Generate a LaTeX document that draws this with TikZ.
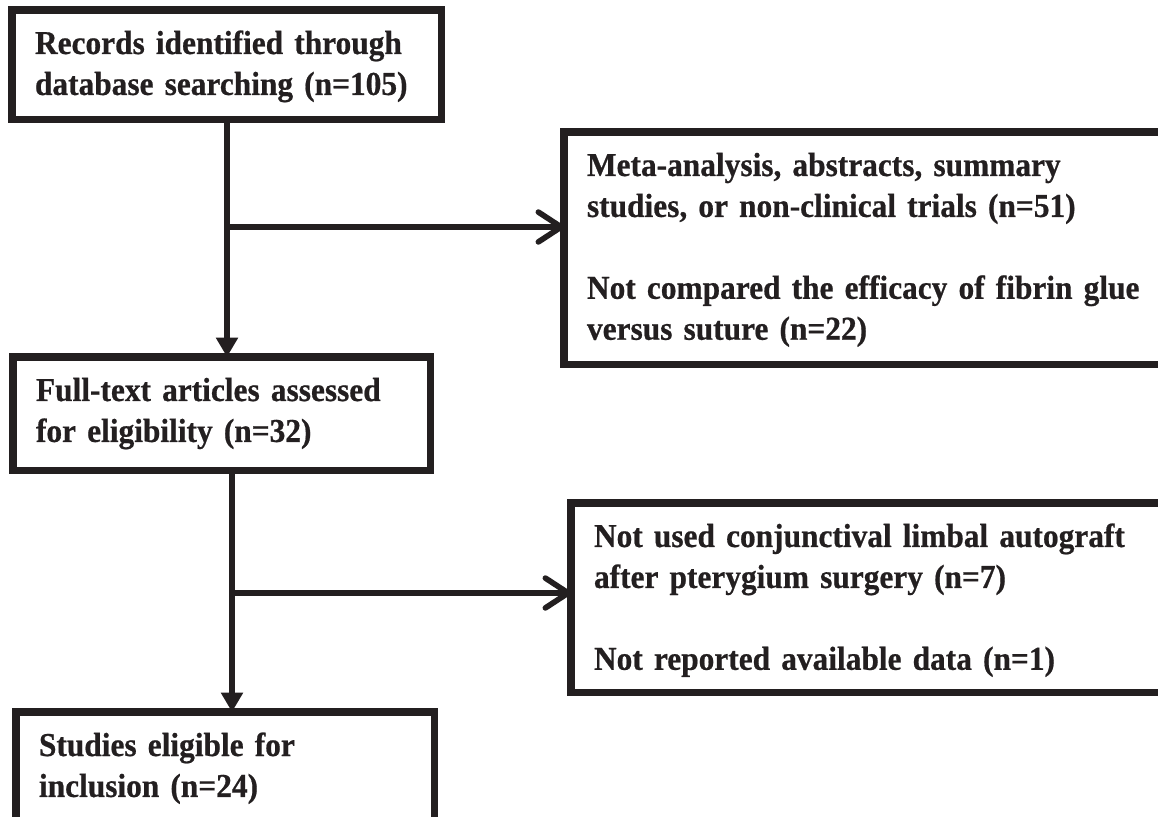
\documentclass[tikz,border=0pt]{standalone}
\usepackage{fontspec}
\setmainfont{Liberation Serif}[FakeStretch=0.94,BoldFeatures={FakeBold=0.6}]
\usetikzlibrary{arrows.meta,positioning}
\definecolor{FlowInk}{HTML}{231F20}
\tikzset{
  down/.style={-{Triangle[length=11pt,width=12pt]}, line width=3.2pt, draw=FlowInk},
  side/.style={-{Straight Barb[length=13pt,width=17pt,round]}, line width=3.2pt, draw=FlowInk},
  flowbox/.style={draw=FlowInk, line width=4pt, fill=white, anchor=north west,
                  align=left, outer sep=0pt, inner xsep=0.46cm, inner ysep=0pt,
                  text height=0.88cm, text=FlowInk,
                  font=\bfseries\fontsize{19pt}{23.3pt}\selectfont},
}

\begin{document}
\begin{tikzpicture}[x=0.02cm,y=-0.02cm]
    \path[use as bounding box,fill=white] (0,0) rectangle (1158,817);
    \node[flowbox,text width=7.68cm,text depth=1.32cm] (records) at (12,10)
      {Records identified through\\database searching (n=105)};
    \node[flowbox,text width=11.2cm,text depth=3.78cm] (excluded) at (564,132)
      {Meta-analysis, abstracts, summary\\studies, or non-clinical trials (n=51)\\[23.3pt]
       Not compared the efficacy of fibrin glue\\versus suture (n=22)};
    \node[flowbox,text width=7.44cm,text depth=1.4cm] (fulltext) at (13,357)
      {Full-text articles assessed\\for eligibility (n=32)};
    \node[flowbox,text width=11.06cm,text depth=2.92cm] (dropped) at (571,503)
      {Not used conjunctival limbal autograft\\after pterygium surgery (n=7)\\[23.3pt]
       Not reported available data (n=1)};
    \node[flowbox,text width=7.46cm,text depth=3cm] (included) at (16,712)
      {Studies eligible for\\inclusion (n=24)};
    \coordinate (forkA) at (227,227);
    \coordinate (forkB) at (232,593);
    \draw[down] (forkA |- records.south) -- (forkA |- fulltext.north);
    \draw[side] (forkA) -- (forkA -| excluded.west);
    \draw[down] (forkB |- fulltext.south) -- (forkB |- included.north);
    \draw[side] (forkB) -- (forkB -| dropped.west);
\end{tikzpicture}
\end{document}
